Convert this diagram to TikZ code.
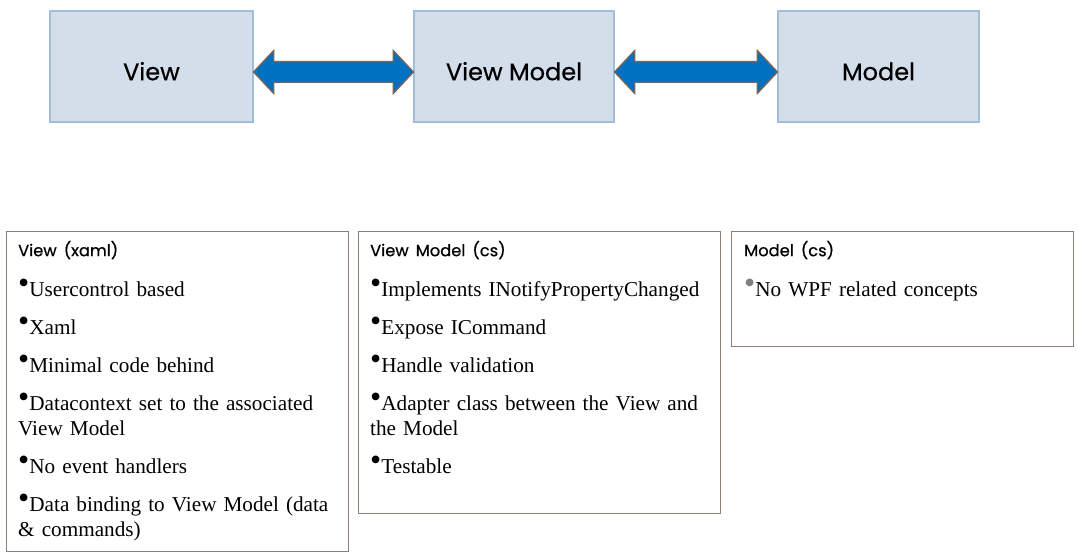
\documentclass[tikz,border=0pt]{standalone}
\usepackage{fontspec}
\setmainfont{Liberation Serif}
\newfontfamily\headfont{Poppins}[FakeBold=0.6]
\definecolor{layerfill}{RGB}{211,222,234}
\definecolor{layerline}{RGB}{160,190,215}
\definecolor{arrowfill}{RGB}{0,112,192}
\definecolor{arrowline}{RGB}{115,100,95}
\definecolor{panelline}{RGB}{145,125,120}
\newcommand\blt[1][black]{\textcolor{#1}{\raisebox{3pt}[14pt][0pt]{\fontsize{32}{32}\selectfont\textbullet}}}
\tikzset{
  layer/.style={draw=layerline, fill=layerfill, line width=1.2pt, minimum height=111,
    text height=27.5, text depth=0, font=\headfont\fontsize{24}{28}\selectfont},
  biarrow/.style={draw=arrowline, fill=arrowfill, line width=1.4pt, line join=miter},
  panel/.style={draw=panelline, line width=1.3pt, anchor=north west},
  paneltext/.style={anchor=north west, inner sep=0pt, text width=330, align=left,
    font=\fontsize{21.2}{25}\selectfont}
}
\newcommand\head[1]{\rule{0pt}{18pt}{\headfont\fontsize{16.3}{20}\selectfont #1}\par\vspace{2pt}}
\begin{document}
\begin{tikzpicture}[x=1pt,y=1pt]
  \useasboundingbox (0,0) rectangle (1078,557);
  % the three layers
  \node[layer, minimum width=203] (view) at (151.5,490.5) {View};
  \node[layer, minimum width=200] (vm) at (514,490.5) {View Model};
  \node[layer, minimum width=201] (model) at (878.5,490.5) {Model};
  % two-way arrows between layers
  \foreach \a/\b in {view/vm, vm/model}
    \draw[biarrow] ([yshift=-5.5]\a.east) -- ([xshift=20,yshift=15.8]\a.east)
      -- ([xshift=20,yshift=4.8]\a.east) -- ([xshift=-20,yshift=4.8]\b.west)
      -- ([xshift=-20,yshift=15.8]\b.west) -- ([yshift=-5.5]\b.west)
      -- ([xshift=-20,yshift=-26.8]\b.west) -- ([xshift=-20,yshift=-15.8]\b.west)
      -- ([xshift=20,yshift=-15.8]\a.east) -- ([xshift=20,yshift=-26.8]\a.east) -- cycle;
  % description panels
  \node[panel, minimum width=342, minimum height=320] (viewpanel) at (6,326) {};
  \node[panel, minimum width=362, minimum height=282] (vmpanel) at (358,326) {};
  \node[panel, minimum width=342, minimum height=115] (modelpanel) at (731,326) {};
  \node[paneltext] (viewtext) at ([shift={(12,-7)}]viewpanel.north west) {\setlength\parskip{13pt}%
    \head{View (xaml)}
    \blt Usercontrol based\par
    \blt Xaml\par
    \blt Minimal code behind\par
    \blt Datacontext set to the associated\\View Model\par
    \blt No event handlers\par
    \blt Data binding to View Model (data\\\& commands)\par};
  \node[paneltext, text width=350] (vmtext) at ([shift={(12,-7)}]vmpanel.north west) {\setlength\parskip{13pt}%
    \head{View Model (cs)}
    \blt Implements INotifyPropertyChanged\par
    \blt Expose ICommand\par
    \blt Handle validation\par
    \blt Adapter class between the View and\\the Model\par
    \blt Testable\par};
  \node[paneltext] (modeltext) at ([shift={(13,-7)}]modelpanel.north west) {\setlength\parskip{13pt}%
    \head{Model (cs)}
    \blt[gray]No WPF related concepts\par};
\end{tikzpicture}
\end{document}
